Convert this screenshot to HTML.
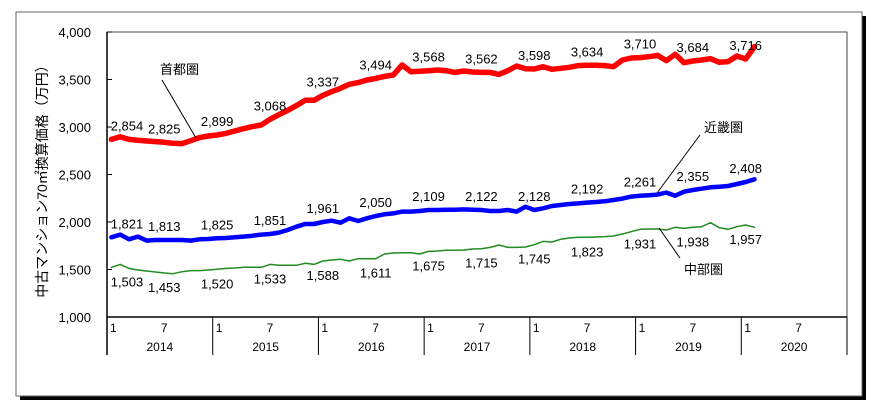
<!DOCTYPE html>
<html><head><meta charset="utf-8"><style>
html,body{margin:0;padding:0;background:#fff;}
svg{display:block;font-family:"Liberation Sans","Noto Sans CJK JP",sans-serif;}
</style></head><body>
<svg id="chart" width="880" height="412" viewBox="0 0 880 412" xmlns="http://www.w3.org/2000/svg">
<rect x="20" y="16" width="846" height="384" fill="#000"/>
<rect x="16" y="12" width="846" height="384" fill="#fff" stroke="#666" stroke-width="1"/>
<g id="plot"></g>
</svg>
<script>
const years = ["2014","2015","2016","2017","2018","2019","2020"];
const yTicks = [1000,1500,2000,2500,3000,3500,4000];
const shutoken = [2870,2898,2870,2860,2853,2846,2839,2828,2825,2856,2888,2905,2916,2933,2958,2982,3004,3021,3081,3130,3175,3225,3281,3281,3333,3372,3407,3449,3467,3495,3512,3533,3547,3653,3582,3586,3593,3600,3593,3575,3589,3579,3575,3575,3554,3593,3642,3614,3611,3635,3607,3618,3628,3646,3650,3650,3646,3635,3705,3726,3730,3740,3754,3698,3765,3677,3695,3705,3719,3681,3688,3747,3716,3846];
const kinki = [1839,1867,1818,1846,1804,1811,1811,1811,1811,1804,1818,1821,1828,1832,1839,1846,1856,1867,1874,1888,1916,1951,1979,1979,2000,2014,1993,2039,2011,2039,2063,2081,2091,2109,2109,2116,2126,2126,2130,2130,2133,2130,2126,2116,2116,2126,2109,2161,2126,2144,2168,2179,2189,2196,2204,2211,2218,2232,2246,2267,2277,2281,2288,2309,2277,2319,2337,2351,2365,2372,2379,2400,2421,2449];
const chubu = [1523,1554,1512,1495,1484,1474,1463,1456,1477,1488,1488,1495,1502,1512,1516,1523,1523,1523,1554,1544,1544,1544,1565,1554,1589,1600,1607,1589,1614,1614,1614,1663,1674,1677,1677,1663,1691,1695,1702,1702,1705,1716,1719,1733,1758,1733,1733,1737,1761,1796,1789,1818,1832,1839,1839,1842,1846,1853,1874,1898,1923,1926,1926,1916,1944,1933,1944,1951,1993,1940,1923,1951,1968,1944];
const shutokenLabels = ["2,854","2,825","2,899","3,068","3,337","3,494","3,568","3,562","3,598","3,634","3,710","3,684","3,716"];
const kinkiLabels = ["1,821","1,813","1,825","1,851","1,961","2,050","2,109","2,122","2,128","2,192","2,261","2,355","2,408"];
const chubuLabels = ["1,503","1,453","1,520","1,533","1,588","1,611","1,675","1,715","1,745","1,823","1,931","1,938","1,957"];

const NS="http://www.w3.org/2000/svg";
const L=107,R=847,T=32,B=317,AXB=355;
const mw=(R-L)/84;
const X=i=>L+(i+0.5)*mw;
const Y=v=>B-(v-1000)/3000*(B-T);
const g=document.getElementById('plot');
function mk(tag,attrs,txt){const e=document.createElementNS(NS,tag);for(const k in attrs)e.setAttribute(k,attrs[k]);if(txt!==undefined)e.textContent=txt;g.appendChild(e);return e;}

// plot box
let e=mk('rect',{x:L,y:T,width:R-L,height:B-T,fill:'none',stroke:'#444','stroke-width':1});


// y ticks
yTicks.forEach(v=>{
  let t=mk('line',{x1:L,x2:L+5,y1:Y(v),y2:Y(v),stroke:'#000'});
  
  
  let s=mk('text',{x:91,y:Y(v)+5,'text-anchor':'end','font-size':13,fill:'#000'},v.toLocaleString('en-US'));
  
  
});
// axis lines
e=mk('line',{x1:L,x2:L,y1:T,y2:AXB,stroke:'#000','stroke-width':1.5});


e=mk('line',{x1:L,x2:R,y1:B,y2:B,stroke:'#000','stroke-width':1.5});


// year dividers and labels
years.forEach((yr,k)=>{
  const x0=L+k*12*mw;
  let d=mk('line',{x1:x0,x2:x0,y1:B,y2:AXB,stroke:'#000'});
  
  
  let m1=mk('text',{x:x0+3,y:332,'font-size':12,fill:'#000'},'1');
  
  
  let m7=mk('text',{x:X(k*12+6),y:332,'text-anchor':'middle','font-size':12,fill:'#000'},'7');
  
  
  let yl=mk('text',{x:x0+6*mw,y:351,'text-anchor':'middle','font-size':12,fill:'#000'},yr);
  
  
});
e=mk('line',{x1:R,x2:R,y1:B,y2:AXB,stroke:'#000'});


// series
function series(data,color,w,name){
  const p=mk('polyline',{points:data.map((v,i)=>X(i).toFixed(1)+','+Y(v).toFixed(1)).join(' '),fill:'none',stroke:color,'stroke-width':w,'stroke-linejoin':'round','stroke-linecap':'round'});
  
  
}
series(chubu,'#228B22',1.5,'chubu-line');
series(kinki,'#0000ff',4.5,'kinki-line');
series(shutoken,'#ff0000',5.5,'shutoken-line');
function labels(data,labs,dy,name){
  labs.forEach((s,k)=>{
    const i=k*6;
    let x=X(i); if(k===0) x=127;
    const t=mk('text',{x:x,y:Y(data[i])+dy,'text-anchor':'middle','font-size':13,fill:'#000'},s);
    
    
  });
}
labels(shutoken,shutokenLabels,-9,'shutoken-value-label');
labels(kinki,kinkiLabels,-9,'kinki-value-label');
labels(chubu,chubuLabels,19,'chubu-value-label');
// annotations
function ann(txt,tx,ty,x1,y1,x2,y2,name){
  let l=mk('line',{x1:x1,y1:y1,x2:x2,y2:y2,stroke:'#000','stroke-width':1});
  
  
  let t=mk('text',{x:tx,y:ty,'font-size':13,fill:'#000'},txt);
  
  
}
ann('首都圏',160,74,162,80,196,138,'shutoken');
ann('近畿圏',704,132,700,135,657,193,'kinki');
ann('中部圏',684,274,659,228,680,258,'chubu');
// y title
e=mk('text',{x:0,y:0,transform:'translate(47,178) rotate(-90)','text-anchor':'middle','font-size':14,fill:'#000'},'中古マンション70㎡換算価格（万円）');


</script>
</body></html>
